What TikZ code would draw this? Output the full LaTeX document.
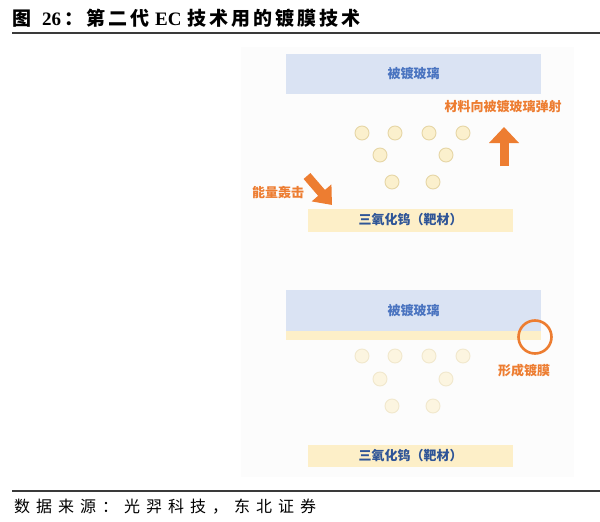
\documentclass[tikz,border=0pt]{standalone}
\usepackage{fontspec}
\usetikzlibrary{arrows.meta}
\newfontfamily\cjk{Noto Sans CJK SC}
\newfontfamily\serifb{Liberation Serif}
\definecolor{glassblue}{HTML}{DAE3F3}
\definecolor{glasstext}{HTML}{4A74C0}
\definecolor{targetfill}{HTML}{FDEFC8}
\definecolor{targettext}{HTML}{2F5597}
\definecolor{accent}{HTML}{ED7D31}
\definecolor{dotfill}{HTML}{FBF0CD}
\definecolor{dotline}{HTML}{E6D6A6}
\definecolor{dotfillB}{HTML}{FCF5E0}
\definecolor{dotlineB}{HTML}{F1E8CD}
\definecolor{panel}{HTML}{FCFCFC}
\definecolor{rulegray}{HTML}{3A3A3A}
\makeatletter
\newcommand\spreadtxt[2]{\def\ls@k{#1}\ls@loop#2\ls@end}
\def\ls@end{\ls@end}
\def\ls@loop#1{\ifx\ls@end#1\else#1\kern\ls@k\expandafter\ls@loop\fi}
\makeatother
\tikzset{
  glass/.style={fill=glassblue, draw=none, minimum width=255pt, minimum height=40pt, inner sep=0pt,
    font=\cjk\bfseries\fontsize{13}{15}\selectfont, text=glasstext},
  target/.style={fill=targetfill, draw=none, minimum width=205pt, minimum height=23pt, inner sep=0pt,
    font=\cjk\bfseries\fontsize{13}{15}\selectfont, text=targettext},
  note/.style={font=\cjk\bfseries\fontsize{13}{15}\selectfont, text=accent, inner sep=0pt},
  dotA/.style={circle, fill=dotfill, draw=dotline, line width=0.9pt, minimum size=14pt, inner sep=0pt},
  dotB/.style={circle, fill=dotfillB, draw=dotlineB, line width=0.9pt, minimum size=14pt, inner sep=0pt},
  bigarrow/.style={draw=accent, line width=9pt},
  rulel/.style={draw=rulegray, line width=1.4pt}
}
\begin{document}
\begin{tikzpicture}[x=1pt, y=-1pt]
\useasboundingbox (0,0) rectangle (600,522);
\fill[white] (0,0) rectangle (600,522);
% title
\node[anchor=west, inner sep=0pt, font=\cjk\bfseries\fontsize{19}{21}\selectfont] (title) at (12,18)
  {\spreadtxt{3pt}{图{\hspace{5pt}}{{\serifb\bfseries 26}}：第二代{\hspace{0pt}}{{\serifb\bfseries EC}}{\hspace{0pt}}技术用的镀膜技术}};
\coordinate (r1a) at (12,33); \coordinate (r1b) at (600,33);
\draw[rulel] (r1a) -- (r1b);
% panel
\fill[panel] (241,47) rectangle (574,477);
% ---------- top scene ----------
\node[glass] (glassA) at (413.5,74) {被镀玻璃};
\node[note] (ejectA) at (503,107) {材料向被镀玻璃弹射};
\foreach \x/\n in {362/a,395/b,429/c,463/d} \node[dotA] (pA1\n) at (\x,133) {};
\foreach \x/\n in {380/a,446/b} \node[dotA] (pA2\n) at (\x,155) {};
\foreach \x/\n in {392/a,433/b} \node[dotA] (pA3\n) at (\x,182) {};
\coordinate (upS) at (504,166); \coordinate (upE) at (504,127);
\draw[bigarrow, -{Triangle[width=29pt,length=16pt]}, accent] (upS) -- (upE);
\node[note] (hit) at (278,193) {能量轰击};
\coordinate (dgS) at (307,176); \coordinate (dgE) at (332,205);
\draw[bigarrow, line width=9pt, -{Triangle[width=25pt,length=16pt]}, accent] (dgS) -- (dgE);
\node[target] (targetA) at (410.5,220) {三氧化钨（靶材）};
% ---------- bottom scene ----------
\node[glass, minimum height=41pt] (glassB) at (413.5,310.5) {被镀玻璃};
\node[fill=targetfill, draw=none, minimum width=255pt, minimum height=9pt, inner sep=0pt, anchor=north] (film) at (413.5,331) {};
\node[circle, draw=accent, line width=2.6pt, minimum size=33pt, inner sep=0pt] (ring) at (535,337) {};
\node[note] (filmtxt) at (524,371) {形成镀膜};
\foreach \x/\n in {362/a,395/b,429/c,463/d} \node[dotB] (pB1\n) at (\x,356) {};
\foreach \x/\n in {380/a,446/b} \node[dotB] (pB2\n) at (\x,379) {};
\foreach \x/\n in {392/a,433/b} \node[dotB] (pB3\n) at (\x,406) {};
\node[target, minimum height=22pt] (targetB) at (410.5,456) {三氧化钨（靶材）};
% source
\coordinate (r2a) at (12,491); \coordinate (r2b) at (600,491);
\draw[rulel, line width=1.2pt] (r2a) -- (r2b);
\node[anchor=west, inner sep=0pt, font=\cjk\fontsize{16}{18}\selectfont] (source) at (14,507)
  {\spreadtxt{6pt}{数据来源：光羿科技，东北证券}};
\end{tikzpicture}
\end{document}
